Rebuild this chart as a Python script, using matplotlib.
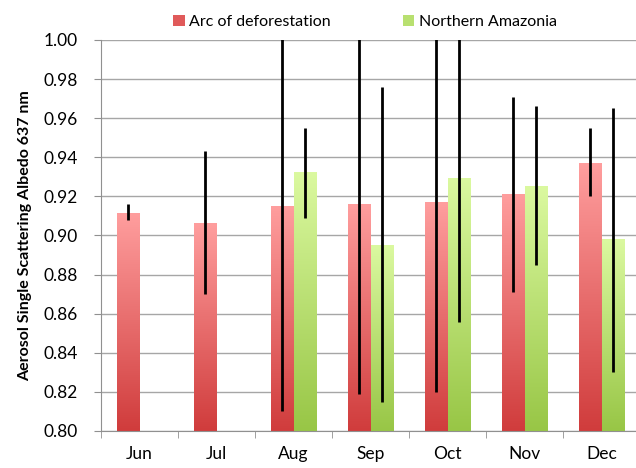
import numpy as np
import matplotlib
matplotlib.use('Agg')
import matplotlib.pyplot as plt
from matplotlib.colors import LinearSegmentedColormap
from matplotlib.patches import Patch

plt.rcParams['font.family'] = ['Lato', 'DejaVu Sans']

# Данные
months = ['Jun', 'Jul', 'Aug', 'Sep', 'Oct', 'Nov', 'Dec']
arc = [0.911, 0.906, 0.915, 0.916, 0.917, 0.921, 0.937]
arc_low = [0.908, 0.870, 0.810, 0.819, 0.820, 0.871, 0.920]
arc_high = [0.916, 0.943, 1.020, 1.013, 1.014, 0.971, 0.955]
north = [np.nan, np.nan, 0.932, 0.895, 0.929, 0.925, 0.898]
north_low = [np.nan, np.nan, 0.909, 0.815, 0.856, 0.885, 0.830]
north_high = [np.nan, np.nan, 0.955, 0.976, 1.005, 0.966, 0.965]

fig = plt.figure(figsize=(6.36, 4.68), dpi=100)
ax = fig.add_axes([101 / 636, 1 - 431 / 468, 539 / 636, 391 / 468])

x = np.arange(len(months))
w = 0.286

red_cmap = LinearSegmentedColormap.from_list('red', ['#d03c3c', '#ff9e9e'])
green_cmap = LinearSegmentedColormap.from_list('green', ['#98c646', '#dbf9a0'])
grad = np.linspace(0, 1, 256).reshape(-1, 1)


def gradient_bars(bars, cmap):
    for b in bars:
        h = b.get_height()
        if np.isnan(h):
            continue
        b.set_alpha(0)
        x0 = b.get_x()
        y0 = b.get_y()
        ax.imshow(grad, cmap=cmap, origin='lower', aspect='auto',
                  extent=(x0, x0 + b.get_width(), y0, y0 + h), zorder=2)


base = 0.80
bars1 = ax.bar(x - w / 2, np.array(arc) - base, w, bottom=base, color='#e05a5a', zorder=2)
bars2 = ax.bar(x + w / 2, np.array(north) - base, w, bottom=base, color='#b8e070', zorder=2)
gradient_bars(bars1, red_cmap)
gradient_bars(bars2, green_cmap)

# Планки погрешностей
arc_a = np.array(arc)
north_a = np.array(north)
ax.errorbar(x - w / 2, arc_a, yerr=[arc_a - np.array(arc_low), np.array(arc_high) - arc_a],
            fmt='none', ecolor='black', elinewidth=2, capsize=0, zorder=4)
ax.errorbar(x + w / 2, north_a, yerr=[north_a - np.array(north_low), np.array(north_high) - north_a],
            fmt='none', ecolor='black', elinewidth=2, capsize=0, zorder=4)

ax.set_xlim(-0.5, len(months) - 0.5)
ax.set_ylim(0.80, 1.00)
ax.set_yticks(np.arange(0.80, 1.001, 0.02))
ax.set_yticklabels(['%.2f' % v for v in np.arange(0.80, 1.001, 0.02)], fontsize=12.5)
ax.set_xticks(x)
ax.set_xticklabels(months, fontsize=12.5)
ax.set_xticks(np.arange(-0.5, len(months), 1), minor=True)
ax.tick_params(axis='x', which='major', length=0, pad=11)
ax.tick_params(axis='x', which='minor', length=5, color='#909090')
ax.tick_params(axis='y', length=5, color='#909090', pad=12)
ax.grid(axis='y', color='#a6a6a6', linewidth=1)
ax.set_axisbelow(True)
for s in ['top', 'right']:
    ax.spines[s].set_visible(False)
for s in ['left', 'bottom']:
    ax.spines[s].set_color('#909090')

ax.set_ylabel('Aerosol Single Scattering Albedo 637 nm', fontsize=11.5, fontweight='bold', labelpad=8)

handles = [Patch(facecolor='#e05a5a', label='Arc of deforestation'),
           Patch(facecolor='#b8e070', label='Northern Amazonia')]
fig.legend(handles=handles, loc='center', bbox_to_anchor=(0.574, 0.953), ncol=2, frameon=False,
           fontsize=11.5, handlelength=0.7, handleheight=0.7, handletextpad=0.3, columnspacing=4.5)

fig.savefig('out.png', dpi=100)
